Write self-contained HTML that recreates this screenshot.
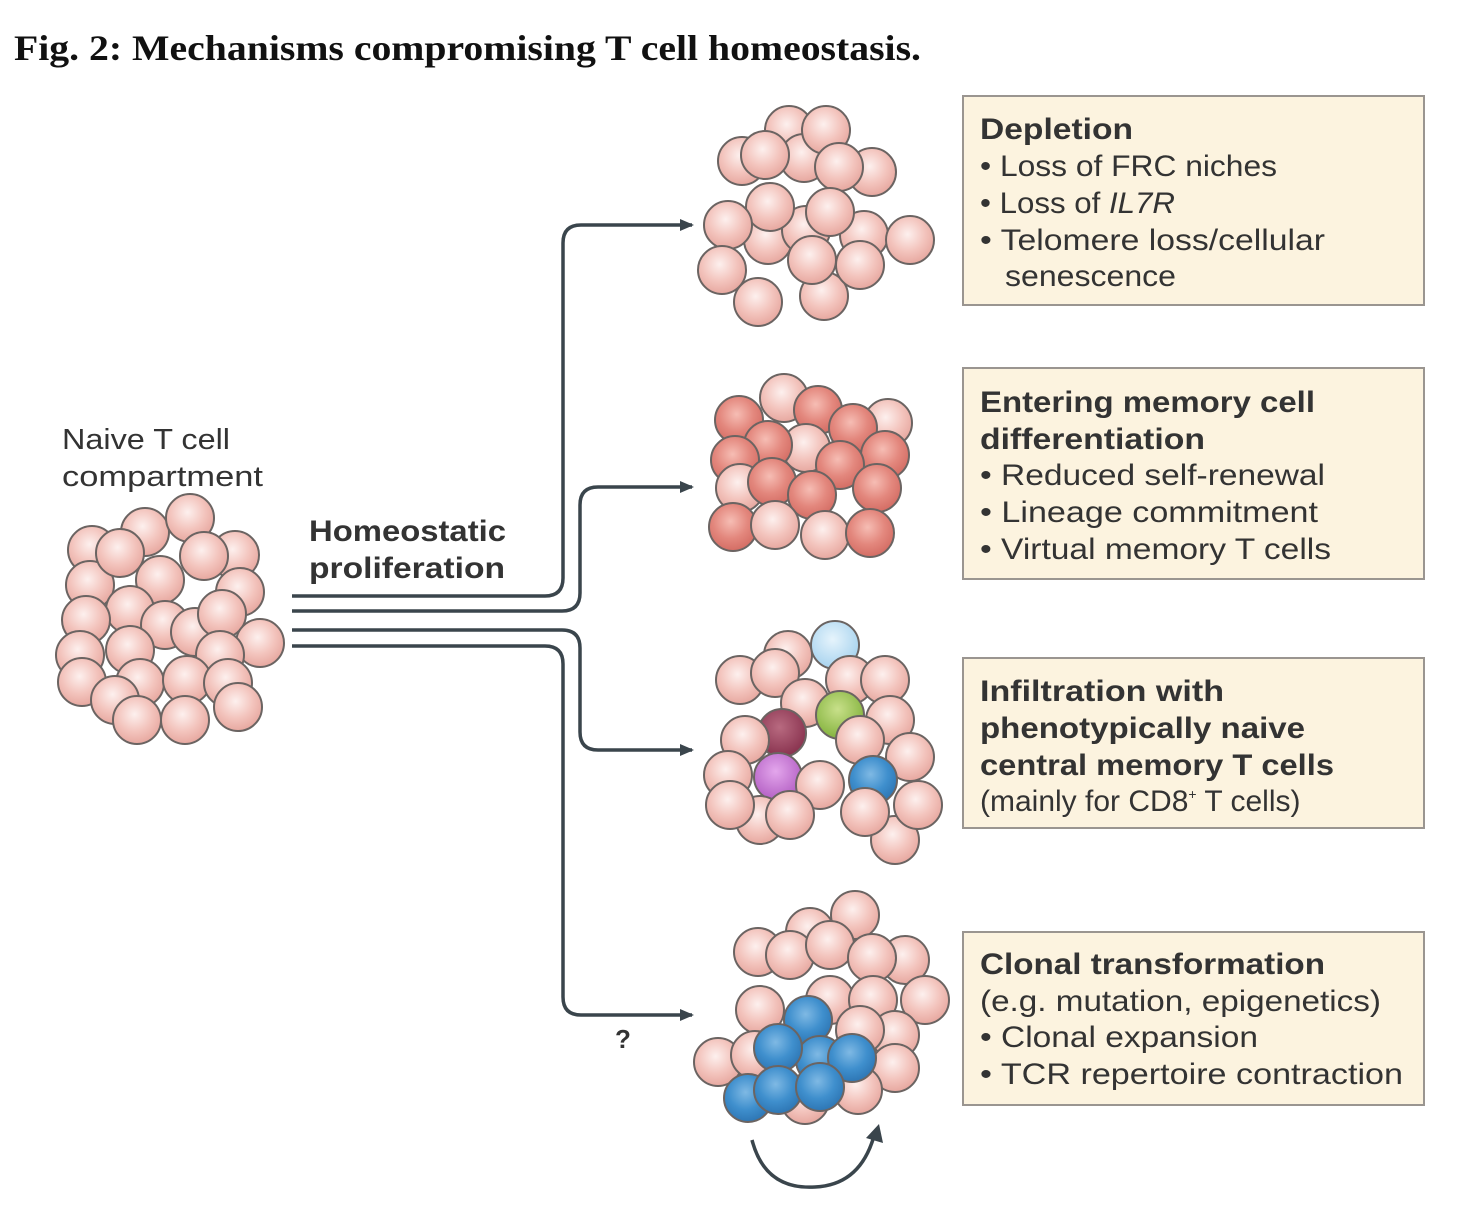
<!DOCTYPE html>
<html><head><meta charset="utf-8"><style>
html,body{margin:0;padding:0;background:#fff;width:1464px;height:1220px;overflow:hidden}
</style></head><body>
<svg width="1464" height="1220" viewBox="0 0 1464 1220" xmlns="http://www.w3.org/2000/svg">
<defs>
<radialGradient id="p" cx="0.45" cy="0.38" r="0.6"><stop offset="0" stop-color="#fdf0ee"/><stop offset="0.6" stop-color="#f3c4bd"/><stop offset="1" stop-color="#e8aaa2"/></radialGradient>
<radialGradient id="r" cx="0.45" cy="0.38" r="0.6"><stop offset="0" stop-color="#f6bdb4"/><stop offset="0.6" stop-color="#e3877d"/><stop offset="1" stop-color="#d56f66"/></radialGradient>
<radialGradient id="b" cx="0.45" cy="0.38" r="0.6"><stop offset="0" stop-color="#7fb9e4"/><stop offset="0.6" stop-color="#3f8fcd"/><stop offset="1" stop-color="#2f78b6"/></radialGradient>
<radialGradient id="lb" cx="0.45" cy="0.38" r="0.6"><stop offset="0" stop-color="#e6f4fc"/><stop offset="1" stop-color="#a9d4ef"/></radialGradient>
<radialGradient id="m" cx="0.45" cy="0.38" r="0.6"><stop offset="0" stop-color="#b86a80"/><stop offset="1" stop-color="#8a3450"/></radialGradient>
<radialGradient id="g" cx="0.45" cy="0.38" r="0.6"><stop offset="0" stop-color="#c8e08a"/><stop offset="1" stop-color="#86b440"/></radialGradient>
<radialGradient id="v" cx="0.45" cy="0.38" r="0.6"><stop offset="0" stop-color="#e3a6ec"/><stop offset="1" stop-color="#b460c4"/></radialGradient>
<marker id="ah" markerWidth="14" markerHeight="14" refX="12" refY="7" orient="auto" markerUnits="userSpaceOnUse"><path d="M0,1 L14,7 L0,13 Z" fill="#3a454c"/></marker>
</defs>
<text x="14" y="60" font-family="Liberation Serif, serif" font-weight="bold" font-size="36" fill="#111" textLength="907" lengthAdjust="spacingAndGlyphs">Fig. 2: Mechanisms compromising T cell homeostasis.</text>

<g stroke="#6b6462" stroke-width="2">
<g fill="url(#p)">
<circle cx="92" cy="550" r="24"/><circle cx="145" cy="532" r="24"/><circle cx="190" cy="518" r="24"/><circle cx="235" cy="555" r="24"/>
<circle cx="90" cy="585" r="24"/><circle cx="240" cy="592" r="24"/><circle cx="120" cy="553" r="24"/><circle cx="160" cy="580" r="24"/><circle cx="204" cy="556" r="24"/>
<circle cx="130" cy="610" r="24"/><circle cx="165" cy="625" r="24"/><circle cx="86" cy="620" r="24"/><circle cx="195" cy="632" r="24"/><circle cx="222" cy="614" r="24"/>
<circle cx="80" cy="655" r="24"/><circle cx="130" cy="650" r="24"/><circle cx="260" cy="643" r="24"/><circle cx="220" cy="655" r="24"/>
<circle cx="82" cy="682" r="24"/><circle cx="140" cy="683" r="24"/><circle cx="187" cy="680" r="24"/><circle cx="228" cy="683" r="24"/>
<circle cx="115" cy="700" r="24"/><circle cx="238" cy="707" r="24"/><circle cx="137" cy="720" r="24"/><circle cx="185" cy="720" r="24"/>
</g>
<g fill="url(#p)">
<circle cx="789" cy="130" r="24"/><circle cx="742" cy="161" r="24"/><circle cx="804" cy="158" r="24"/><circle cx="826" cy="130" r="24"/><circle cx="872" cy="172" r="24"/>
<circle cx="765" cy="155" r="24"/><circle cx="839" cy="167" r="24"/>
<circle cx="768" cy="240" r="24"/><circle cx="806" cy="230" r="24"/><circle cx="864" cy="235" r="24"/><circle cx="770" cy="207" r="24"/><circle cx="830" cy="212" r="24"/>
<circle cx="728" cy="225" r="24"/><circle cx="910" cy="240" r="24"/><circle cx="824" cy="296" r="24"/><circle cx="812" cy="260" r="24"/><circle cx="860" cy="265" r="24"/>
<circle cx="722" cy="270" r="24"/><circle cx="758" cy="302" r="24"/>
</g>
<circle cx="784" cy="398" r="24" fill="url(#p)"/><circle cx="888" cy="423" r="24" fill="url(#p)"/>
<circle cx="739" cy="420" r="24" fill="url(#r)"/><circle cx="818" cy="410" r="24" fill="url(#r)"/><circle cx="853" cy="428" r="24" fill="url(#r)"/>
<circle cx="806" cy="448" r="24" fill="url(#p)"/><circle cx="768" cy="445" r="24" fill="url(#r)"/><circle cx="885" cy="455" r="24" fill="url(#r)"/>
<circle cx="735" cy="460" r="24" fill="url(#r)"/><circle cx="840" cy="465" r="24" fill="url(#r)"/>
<circle cx="740" cy="488" r="24" fill="url(#p)"/><circle cx="772" cy="482" r="24" fill="url(#r)"/><circle cx="877" cy="488" r="24" fill="url(#r)"/><circle cx="812" cy="495" r="24" fill="url(#r)"/>
<circle cx="733" cy="527" r="24" fill="url(#r)"/><circle cx="775" cy="525" r="24" fill="url(#p)"/><circle cx="825" cy="535" r="24" fill="url(#p)"/><circle cx="870" cy="533" r="24" fill="url(#r)"/>
<circle cx="788" cy="655" r="24" fill="url(#p)"/><circle cx="835" cy="645" r="24" fill="url(#lb)"/>
<circle cx="740" cy="680" r="24" fill="url(#p)"/><circle cx="775" cy="673" r="24" fill="url(#p)"/><circle cx="850" cy="680" r="24" fill="url(#p)"/><circle cx="885" cy="680" r="24" fill="url(#p)"/>
<circle cx="805" cy="703" r="24" fill="url(#p)"/><circle cx="890" cy="720" r="24" fill="url(#p)"/>
<circle cx="782" cy="733" r="24" fill="url(#m)"/><circle cx="840" cy="715" r="24" fill="url(#g)"/>
<circle cx="745" cy="740" r="24" fill="url(#p)"/><circle cx="860" cy="740" r="24" fill="url(#p)"/>
<circle cx="728" cy="775" r="24" fill="url(#p)"/><circle cx="910" cy="757" r="24" fill="url(#p)"/>
<circle cx="778" cy="777" r="24" fill="url(#v)"/><circle cx="873" cy="780" r="24" fill="url(#b)"/><circle cx="820" cy="785" r="24" fill="url(#p)"/>
<circle cx="895" cy="840" r="24" fill="url(#p)"/><circle cx="760" cy="820" r="24" fill="url(#p)"/>
<circle cx="730" cy="805" r="24" fill="url(#p)"/><circle cx="790" cy="815" r="24" fill="url(#p)"/><circle cx="865" cy="812" r="24" fill="url(#p)"/><circle cx="918" cy="805" r="24" fill="url(#p)"/>
<g fill="url(#p)">
<circle cx="810" cy="932" r="24"/><circle cx="855" cy="915" r="24"/><circle cx="758" cy="952" r="24"/><circle cx="790" cy="955" r="24"/><circle cx="830" cy="945" r="24"/>
<circle cx="905" cy="960" r="24"/><circle cx="872" cy="958" r="24"/>
<circle cx="760" cy="1010" r="24"/><circle cx="830" cy="1000" r="24"/><circle cx="873" cy="1000" r="24"/><circle cx="925" cy="1000" r="24"/>
<circle cx="895" cy="1035" r="24"/><circle cx="860" cy="1030" r="24"/>
<circle cx="718" cy="1062" r="24"/><circle cx="755" cy="1055" r="24"/><circle cx="895" cy="1068" r="24"/><circle cx="805" cy="1100" r="24"/><circle cx="858" cy="1090" r="24"/>
</g>
<g fill="url(#b)">
<circle cx="808" cy="1020" r="24"/><circle cx="820" cy="1060" r="24"/><circle cx="778" cy="1048" r="24"/><circle cx="852" cy="1058" r="24"/>
<circle cx="748" cy="1098" r="24"/><circle cx="778" cy="1090" r="24"/><circle cx="820" cy="1087" r="24"/>
</g>
</g>

<g fill="none" stroke="#3a454c" stroke-width="3.5">
<path d="M292,596 H545 Q563,596 563,578 V243 Q563,225 581,225 H692" marker-end="url(#ah)"/>
<path d="M292,611 H562 Q580,611 580,593 V505 Q580,487 598,487 H692" marker-end="url(#ah)"/>
<path d="M292,630 H562 Q580,630 580,648 V732 Q580,750 598,750 H692" marker-end="url(#ah)"/>
<path d="M292,646 H545 Q563,646 563,664 V997 Q563,1015 581,1015 H692" marker-end="url(#ah)"/>
<path d="M752,1140 Q765,1190 815,1187 Q860,1185 874,1136"/>
</g>
<path d="M866,1138 L879,1124 L883,1143 Z" fill="#3a454c"/>

<g font-family="Liberation Sans, sans-serif" fill="#333">
<text x="62" y="449" font-size="29" textLength="168" lengthAdjust="spacingAndGlyphs">Naive T cell</text>
<text x="62" y="486" font-size="29" textLength="201" lengthAdjust="spacingAndGlyphs">compartment</text>
<text x="309" y="541" font-size="30" font-weight="bold" textLength="197" lengthAdjust="spacingAndGlyphs">Homeostatic</text>
<text x="309" y="578" font-size="30" font-weight="bold" textLength="196" lengthAdjust="spacingAndGlyphs">proliferation</text>
<text x="615" y="1048" font-size="26" font-weight="bold">?</text>
</g>

<g stroke="#9a9590" stroke-width="2" fill="#fcf3df">
<rect x="963" y="96" width="461" height="209"/>
<rect x="963" y="368" width="461" height="211"/>
<rect x="963" y="658" width="461" height="170"/>
<rect x="963" y="932" width="461" height="173"/>
</g>
<g font-family="Liberation Sans, sans-serif" font-size="30" fill="#333" lengthAdjust="spacingAndGlyphs">
<text x="980" y="139" font-weight="bold" textLength="153" lengthAdjust="spacingAndGlyphs">Depletion</text>
<text x="980" y="176" textLength="297" lengthAdjust="spacingAndGlyphs">• Loss of FRC niches</text>
<text x="980" y="213" textLength="195" lengthAdjust="spacingAndGlyphs">• Loss of <tspan font-style="italic">IL7R</tspan></text>
<text x="980" y="250" textLength="345" lengthAdjust="spacingAndGlyphs">• Telomere loss/cellular</text>
<text x="1005" y="286" textLength="171" lengthAdjust="spacingAndGlyphs">senescence</text>

<text x="980" y="412" font-weight="bold" textLength="335" lengthAdjust="spacingAndGlyphs">Entering memory cell</text>
<text x="980" y="449" font-weight="bold" textLength="225" lengthAdjust="spacingAndGlyphs">differentiation</text>
<text x="980" y="485" textLength="345" lengthAdjust="spacingAndGlyphs">• Reduced self-renewal</text>
<text x="980" y="522" textLength="338" lengthAdjust="spacingAndGlyphs">• Lineage commitment</text>
<text x="980" y="559" textLength="351" lengthAdjust="spacingAndGlyphs">• Virtual memory T cells</text>

<text x="980" y="701" font-weight="bold" textLength="244" lengthAdjust="spacingAndGlyphs">Infiltration with</text>
<text x="980" y="738" font-weight="bold" textLength="325" lengthAdjust="spacingAndGlyphs">phenotypically naive</text>
<text x="980" y="775" font-weight="bold" textLength="354" lengthAdjust="spacingAndGlyphs">central memory T cells</text>
<text x="980" y="811">(mainly for CD8<tspan font-size="14" dy="-12">+</tspan><tspan dy="12"> T cells)</tspan></text>

<text x="980" y="974" font-weight="bold" textLength="345" lengthAdjust="spacingAndGlyphs">Clonal transformation</text>
<text x="980" y="1011" textLength="401" lengthAdjust="spacingAndGlyphs">(e.g. mutation, epigenetics)</text>
<text x="980" y="1047" textLength="278" lengthAdjust="spacingAndGlyphs">• Clonal expansion</text>
<text x="980" y="1084" textLength="423" lengthAdjust="spacingAndGlyphs">• TCR repertoire contraction</text>
</g>
</svg>
</body></html>
